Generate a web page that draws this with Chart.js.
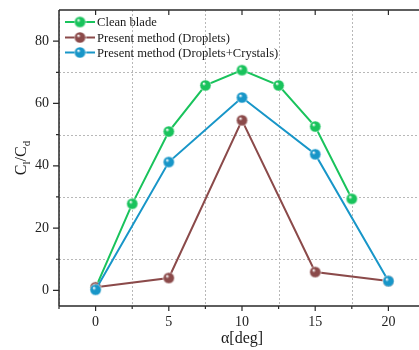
<!DOCTYPE html>
<html><head><meta charset="utf-8">
<script src="https://cdn.jsdelivr.net/npm/chart.js@4/dist/chart.umd.min.js"></script>
<style>html,body{margin:0;padding:0;background:#fff;overflow:hidden;width:419px;height:350px}
#wrap{width:432px;height:350px;position:relative}</style>
</head><body><div id="wrap"><canvas id="c" width="432" height="350"></canvas></div>
<script>
const seriesNames = ['Clean blade', 'Present method (Droplets)', 'Present method (Droplets+Crystals)'];
const cleanX = [0, 2.5, 5, 7.5, 10, 12.5, 15, 17.5];
const cleanY = [0.8, 27.8, 51, 65.8, 70.7, 65.8, 52.6, 29.4];
const dropX = [0, 5, 10, 15, 20];
const dropY = [1.0, 4.0, 54.6, 5.9, 3.0];
const crystX = [0, 5, 10, 15, 20];
const crystY = [0.2, 41.2, 61.9, 43.7, 3.0];
const xTicks = [0, 5, 10, 15, 20];
const yTicks = [0, 20, 40, 60, 80];
const xMinor = [-2.5, 2.5, 7.5, 12.5, 17.5, 22.5];
const yMinor = [10, 30, 50, 70];
const colors = ['#19c35c', '#8b4a4a', '#1896c8'];

function ball(color) {
  const s = 13, cv = document.createElement('canvas');
  cv.width = s; cv.height = s;
  const g = cv.getContext('2d');
  const r = 5.6, cx = s/2, cy = s/2;
  const grad = g.createRadialGradient(cx-1.8, cy-2, 0.4, cx, cy, r);
  grad.addColorStop(0, '#ffffff');
  grad.addColorStop(0.3, color);
  grad.addColorStop(1, color);
  g.beginPath(); g.arc(cx, cy, r, 0, Math.PI*2);
  g.fillStyle = grad; g.fill();
  g.lineWidth = 0.8; g.strokeStyle = 'rgba(255,255,255,0.7)'; g.stroke();
  return cv;
}
const balls = colors.map(ball);
const toPts = (xs, ys) => xs.map((x, i) => ({x, y: ys[i]}));

const FONT = '"Liberation Serif", "Times New Roman", serif';
const L = 59, T = 10, B = 306, R = 425;

const axesPlugin = {
  id: 'axesPlugin',
  beforeDatasetsDraw(chart) {
    const {ctx, chartArea: a, scales: {x, y}} = chart;
    ctx.save();
    ctx.strokeStyle = '#b8b8b8'; ctx.lineWidth = 1; ctx.setLineDash([2, 2]);
    xMinor.forEach(v => { const px = Math.round(x.getPixelForValue(v)) + 0.5;
      ctx.beginPath(); ctx.moveTo(px, a.top); ctx.lineTo(px, a.bottom); ctx.stroke(); });
    yMinor.forEach(v => { const py = Math.round(y.getPixelForValue(v)) + 0.5;
      ctx.beginPath(); ctx.moveTo(a.left, py); ctx.lineTo(a.right, py); ctx.stroke(); });
    ctx.restore();
  },
  afterDraw(chart) {
    const {ctx, chartArea: a, scales: {x, y}} = chart;
    const l = a.left, t = a.top, b = a.bottom, r = a.right;
    ctx.save();
    ctx.strokeStyle = '#2a2a2a'; ctx.lineWidth = 1.5; ctx.setLineDash([]);
    ctx.beginPath();
    ctx.moveTo(l, t); ctx.lineTo(r, t);
    ctx.moveTo(l, t); ctx.lineTo(l, b);
    ctx.moveTo(l, b); ctx.lineTo(r, b);
    ctx.moveTo(r, t); ctx.lineTo(r, b);
    ctx.stroke();
    ctx.lineWidth = 1.2;
    ctx.beginPath();
    xTicks.forEach(v => { const px = x.getPixelForValue(v);
      ctx.moveTo(px, b); ctx.lineTo(px, b + 5);
      ctx.moveTo(px, t); ctx.lineTo(px, t + 5); });
    xMinor.forEach(v => { const px = x.getPixelForValue(v);
      ctx.moveTo(px, b); ctx.lineTo(px, b + 3); });
    yTicks.forEach(v => { const py = y.getPixelForValue(v);
      ctx.moveTo(l, py); ctx.lineTo(l - 6, py);
      ctx.moveTo(r, py); ctx.lineTo(r - 6, py); });
    yMinor.forEach(v => { const py = y.getPixelForValue(v);
      ctx.moveTo(l, py); ctx.lineTo(l - 3, py); });
    ctx.stroke();

    // legend
    ctx.font = '12.6px ' + FONT; ctx.textBaseline = 'middle'; ctx.fillStyle = '#1a1a1a';
    const rows = [22, 37.5, 52.5];
    seriesNames.forEach((name, i) => {
      const yy = rows[i];
      ctx.strokeStyle = colors[i]; ctx.lineWidth = 2;
      ctx.beginPath(); ctx.moveTo(65, yy); ctx.lineTo(95, yy); ctx.stroke();
      ctx.drawImage(balls[i], 80 - 6.5, yy - 6.5);
      ctx.fillStyle = '#1a1a1a';
      ctx.fillText(name, 97, yy + 1);
    });

    // x title
    ctx.font = '16px ' + FONT; ctx.textAlign = 'center'; ctx.textBaseline = 'alphabetic';
    ctx.fillText('α[deg]', x.getPixelForValue(10), 343);

    // y title with subscripts
    ctx.translate(26, 158); ctx.rotate(-Math.PI / 2);
    const parts = [['C', 16, 0], ['l', 11, 4], ['/C', 16, 0], ['d', 11, 4]];
    let w = 0;
    parts.forEach(p => { ctx.font = p[1] + 'px ' + FONT; w += ctx.measureText(p[0]).width; });
    let cx = -w / 2; ctx.textAlign = 'left';
    parts.forEach(p => { ctx.font = p[1] + 'px ' + FONT; ctx.fillText(p[0], cx, p[2]); cx += ctx.measureText(p[0]).width; });
    ctx.restore();
  }
};

new Chart(document.getElementById('c'), {
  type: 'line',
  data: {
    datasets: [
      {label: seriesNames[0], data: toPts(cleanX, cleanY), borderColor: colors[0], pointStyle: balls[0], order: 3},
      {label: seriesNames[1], data: toPts(dropX, dropY), borderColor: colors[1], pointStyle: balls[1], order: 2},
      {label: seriesNames[2], data: toPts(crystX, crystY), borderColor: colors[2], pointStyle: balls[2], order: 1}
    ]
  },
  options: {
    responsive: false, animation: false,
    layout: {padding: {top: T, right: 432 - R, left: 0, bottom: 0}},
    elements: {line: {borderWidth: 2, tension: 0}, point: {radius: 6}},
    plugins: {legend: {display: false}, tooltip: {enabled: false}},
    scales: {
      x: {type: 'linear', min: -2.5, max: 22.5,
        afterFit: s => { s.height = 350 - B; s.paddingLeft = 0; s.paddingRight = 0; },
        afterBuildTicks: s => { s.ticks = xTicks.map(v => ({value: v})); },
        grid: {display: false, drawTicks: false}, border: {display: false},
        ticks: {color: '#222', font: {family: FONT, size: 14}, padding: 8, maxRotation: 0}},
      y: {type: 'linear', min: -5, max: 90,
        afterFit: s => { s.width = L; s.paddingTop = 0; s.paddingBottom = 0; },
        afterBuildTicks: s => { s.ticks = yTicks.map(v => ({value: v})); },
        grid: {display: false, drawTicks: false}, border: {display: false},
        ticks: {color: '#222', font: {family: FONT, size: 14}, padding: 10}}
    }
  },
  plugins: [axesPlugin]
});
</script></body></html>
